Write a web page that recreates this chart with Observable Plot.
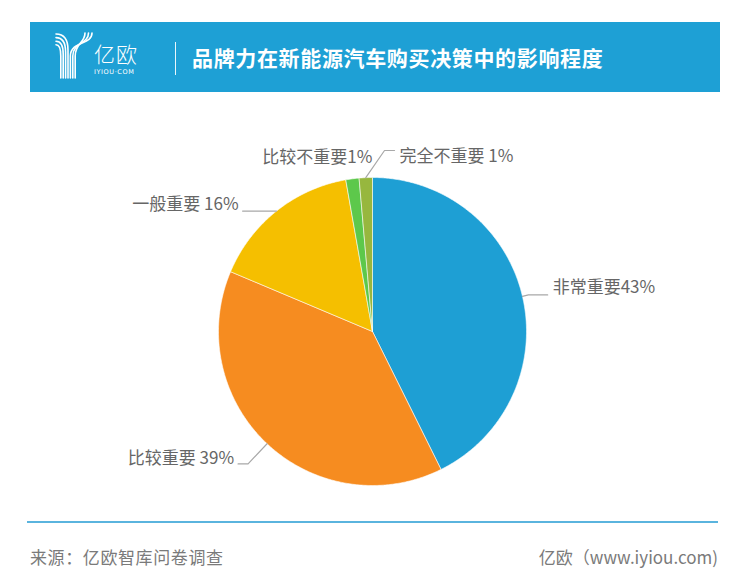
<!DOCTYPE html>
<html>
<head>
<meta charset="utf-8">
<script src="https://cdn.jsdelivr.net/npm/d3@7"></script>
<script src="https://cdn.jsdelivr.net/npm/@observablehq/plot@0.6"></script>
<style>
  html, body { margin: 0; padding: 0; background: #fff; }
  body { width: 750px; height: 587px; position: relative; overflow: hidden;
         font-family: "Noto Sans CJK SC", "Noto Sans", sans-serif; }
  #header { position: absolute; left: 30px; top: 22px; width: 690px; height: 70px; background: #1EA0D5; }
  #logo { position: absolute; left: 25px; top: 10px; }
  #brand { position: absolute; left: 64px; top: 19px; color: #fff; font-size: 21px; line-height: 25px; font-weight: 300; letter-spacing: 1px; }
  #brandsub { position: absolute; left: 64px; top: 47px; color: #fff; font-size: 6.5px; line-height: 7px; letter-spacing: 0.6px; font-family: "DejaVu Sans", sans-serif; }
  #divider { position: absolute; left: 145px; top: 20px; width: 1px; height: 33px; background: #fff; opacity: 0.9; }
  #title { position: absolute; left: 162px; top: 0; line-height: 70px; color: #fff; font-size: 21px; font-weight: 700; white-space: nowrap; letter-spacing: 0.65px; }
  #chart { position: absolute; left: 0; top: 95px; }
  #rule { position: absolute; left: 27px; top: 521px; width: 691px; height: 2px; background: #5AB4DE; }
  #source { position: absolute; left: 30px; top: 545px; font-size: 17px; line-height: 24px; color: #7a7a7a; white-space: nowrap; letter-spacing: 0.6px; }
  #site { position: absolute; right: 32px; top: 545px; font-size: 17px; line-height: 24px; color: #7a7a7a; white-space: nowrap; }
</style>
</head>
<body>
<div id="header">
  <svg id="logo" width="42" height="48" viewBox="0 0 42 48">
    <g fill="none" stroke="#fff" stroke-width="1.6" stroke-linecap="round">
      <path d="M1,2 Q13,2 13,18 L13,46"/>
      <path d="M1,5.6 Q10.6,5.6 10.6,20 L10.6,46"/>
      <path d="M1,9.2 Q8.2,9.2 8.2,22 L8.2,46"/>
      <path d="M1,12.8 Q5.8,12.8 5.8,24 L5.8,46"/>
      <path d="M37,1 C37,13 15.4,9 15.4,24 L15.4,46"/>
      <path d="M33.5,1 C33.5,12 17.8,10 17.8,24 L17.8,46"/>
      <path d="M30,1 C30,11 20.2,11 20.2,24 L20.2,46"/>
    </g>
  </svg>
  <div id="brand">亿欧</div>
  <div id="brandsub">IYIOU·COM</div>
  <div id="divider"></div>
  <div id="title">品牌力在新能源汽车购买决策中的影响程度</div>
</div>
<div id="chart"></div>
<div id="rule"></div>
<div id="source">来源：亿欧智库问卷调查</div>
<div id="site">亿欧（www.iyiou.com)</div>
<script>
// ---- data ----
const categories = ["非常重要", "比较重要", "一般重要", "比较不重要", "完全不重要"];
const values = [43, 39, 16, 1, 1];
const labelSep = ["", " ", " ", "", " "];

// ---- styles / layout (not data) ----
const palette = ["#1E9FD4", "#F68C20", "#F5BF00", "#5DC84B", "#97B73E"];
const minAngleDeg = 5; // smallest slice angle, as in the original chart renderer
// per-label leader layout: elbow radius (x pie radius), elbow angle shift (deg),
// horizontal run (pie-radius units), text vertical offset (pie-radius units), side, draw leader
const labelLayout = [
  {elbowR: 1.04, shift: 0,   run: 0.125, ty: 0.045,  side: 1,  leader: true},
  {elbowR: 1.18, shift: 0,   run: 0.065, ty: 0.035,  side: -1, leader: true},
  {elbowR: 1.0,  shift: 0,   run: 0.22,  ty: 0.045,  side: -1, leader: true},
  {elbowR: 1.13, shift: 8.8, run: 0,     ty: 0,      side: -1, leader: false},
  {elbowR: 1.178, shift: 6.3, run: 0.065, ty: -0.04, side: 1,  leader: true}
];

// slice angles with a minimum angle for tiny slices
const total = d3.sum(values);
const minA = minAngleDeg / 360 * 2 * Math.PI;
const isSmall = values.map(v => v / total * 2 * Math.PI < minA);
const sumLarge = d3.sum(values.filter((v, i) => !isSmall[i]));
const remaining = 2 * Math.PI - minA * isSmall.filter(Boolean).length;
const sweep = values.map((v, i) => isSmall[i] ? minA : remaining * v / sumLarge);
const arcs = d3.pie().sort(null).value(d => d)(sweep);
const polar = (a, r) => ({x: r * Math.sin(a), y: r * Math.cos(a)});

// slice outlines in pie-radius units
const slicePts = [];
arcs.forEach((a, i) => {
  const cat = categories[i];
  slicePts.push({cat, x: 0, y: 0});
  const n = Math.max(2, Math.ceil((a.endAngle - a.startAngle) / (Math.PI / 360)));
  for (let k = 0; k <= n; k++) {
    const t = a.startAngle + (a.endAngle - a.startAngle) * k / n;
    slicePts.push({cat, ...polar(t, 1)});
  }
  slicePts.push({cat, x: 0, y: 0});
});

const leaderPts = [];
const labels = [];
arcs.forEach((a, i) => {
  const L = labelLayout[i];
  const mid = (a.startAngle + a.endAngle) / 2;
  const start = polar(mid, 1.0);
  const elbow = polar(mid + L.shift * Math.PI / 180, L.elbowR);
  const end = {x: elbow.x + L.side * L.run, y: elbow.y};
  if (L.leader) {
    leaderPts.push({cat: categories[i], ...start});
    leaderPts.push({cat: categories[i], ...elbow});
    leaderPts.push({cat: categories[i], ...end});
  }
  labels.push({
    text: categories[i] + labelSep[i] + values[i] + "%",
    x: end.x, y: end.y + L.ty, side: L.side, leader: L.leader
  });
});

const chart = Plot.plot({
  width: 750,
  height: 420,
  x: {domain: [-1, 1], range: [218, 526], axis: null},
  y: {domain: [-1, 1], range: [390, 82], axis: null},
  color: {domain: categories, range: palette},
  style: {fontFamily: "'Noto Sans CJK SC', 'Noto Sans', sans-serif", fontSize: "17px", background: "transparent", overflow: "visible"},
  marks: [
    Plot.line(slicePts, {x: "x", y: "y", z: "cat", fill: "cat", stroke: "white", strokeWidth: 0.7, strokeOpacity: 0.8}),
    Plot.line(leaderPts, {x: "x", y: "y", z: "cat", stroke: "#a8a8a8", strokeWidth: 1.2}),
    Plot.text(labels.filter(d => d.side > 0), {x: "x", y: "y", text: "text", textAnchor: "start", dx: 5, fill: "#666", fontSize: 17}),
    Plot.text(labels.filter(d => d.side < 0), {x: "x", y: "y", text: "text", textAnchor: "end", dx: -4, fill: "#666", fontSize: 17}),
  ]
});
document.getElementById("chart").appendChild(chart);
</script>
</body>
</html>
